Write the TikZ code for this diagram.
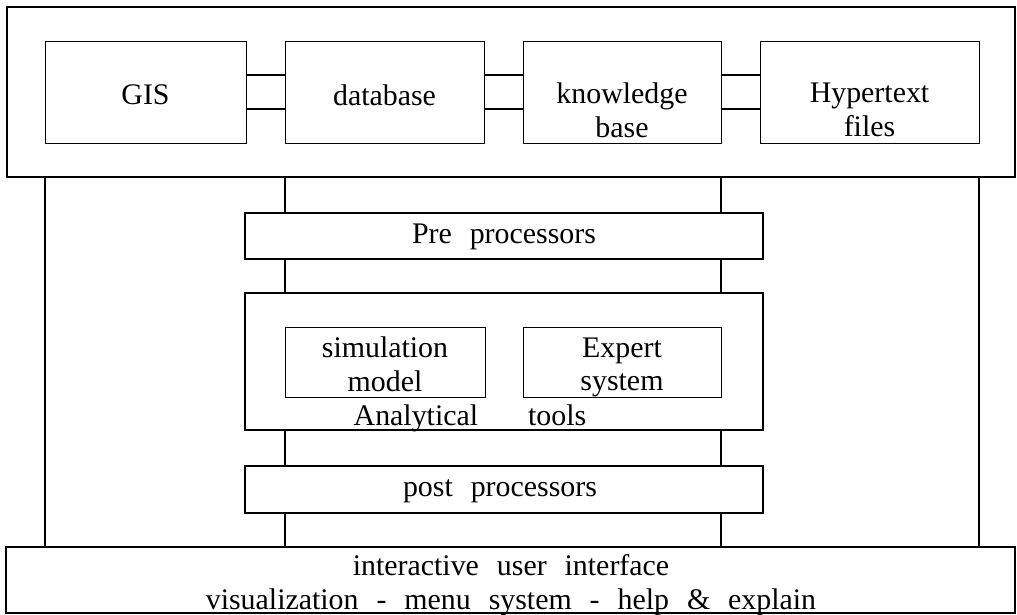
\documentclass[tikz,border=0pt]{standalone}
\usepackage{fontspec}
\setmainfont{Liberation Serif}[WordSpace=2.4]
\begin{document}
\begin{tikzpicture}[x=1bp,y=-1bp,
  thick box/.style={draw, line width=1.6bp, fill=white, inner sep=0pt, outer sep=0pt},
  thin box/.style={draw, line width=0.9bp, fill=white, inner sep=0pt, outer sep=0pt},
  txt/.style={inner sep=0pt, align=center, font=\fontsize{30}{34}\selectfont},
  link/.style={line width=1.6bp},
  pair/.style={line width=1.2bp}]
\useasboundingbox (0,0) rectangle (1017,615);
% outer frames
\node[thick box, minimum width=1008bp, minimum height=170bp] (top) at (511,92) {};
\node[thick box, minimum width=1009bp, minimum height=66bp] (iface) at (510.5,580) {};
% top row
\node[thin box, minimum width=201bp, minimum height=102bp] (gis) at (145.5,92) {};
\node[thin box, minimum width=199bp, minimum height=102bp] (db) at (384.5,92) {};
\node[thin box, minimum width=198bp, minimum height=102bp] (kb) at (622,92) {};
\node[thin box, minimum width=219bp, minimum height=102bp] (ht) at (869.5,92) {};
\node[txt] (gist) at (145.5,95) {GIS};
\node[txt] (dbt) at (384.5,95) {database};
\node[txt] (kbt) at (622,110) {knowledge\\base};
\node[txt] (htt) at (869.5,110) {Hypertext\\files};
% double connectors
\foreach \a/\b in {gis/db, db/kb, kb/ht}{
  \draw[pair] ([yshift=17bp]\a.east) -- ([yshift=17bp]\b.west);
  \draw[pair] ([yshift=-17bp]\a.east) -- ([yshift=-17bp]\b.west);
}
% vertical links
\draw[link] (gis.west |- top.south) -- (gis.west |- iface.north);
\draw[link] (db.west |- top.south) -- (db.west |- iface.north);
\draw[link] (kb.east |- top.south) -- (kb.east |- iface.north);
\draw[link] (ht.east |- top.south) -- (ht.east |- iface.north);
% middle stack
\node[thick box, minimum width=518bp, minimum height=46bp] (pre) at (504,236) {};
\node[txt] (pret) at (504,237) {Pre processors};
\node[thick box, minimum width=518bp, minimum height=137bp] (anal) at (504,361.5) {};
\node[thin box, minimum width=200bp, minimum height=70bp] (sim) at (385,362) {};
\node[thin box, minimum width=198bp, minimum height=70bp] (exp) at (622,362) {};
\node[txt] (simt) at (385,364) {simulation\\model};
\node[txt] (expt) at (622,367.5) {Expert\\system};
\node[txt] (analt) at (470,418) {Analytical\hspace{50bp}tools};
\node[thick box, minimum width=518bp, minimum height=47bp] (post) at (504,489.5) {};
\node[txt] (postt) at (500,491) {post processors};
\node[txt] (ifacet) at (511,585) {interactive user interface\\visualization - menu system - help \& explain};
\end{tikzpicture}
\end{document}
